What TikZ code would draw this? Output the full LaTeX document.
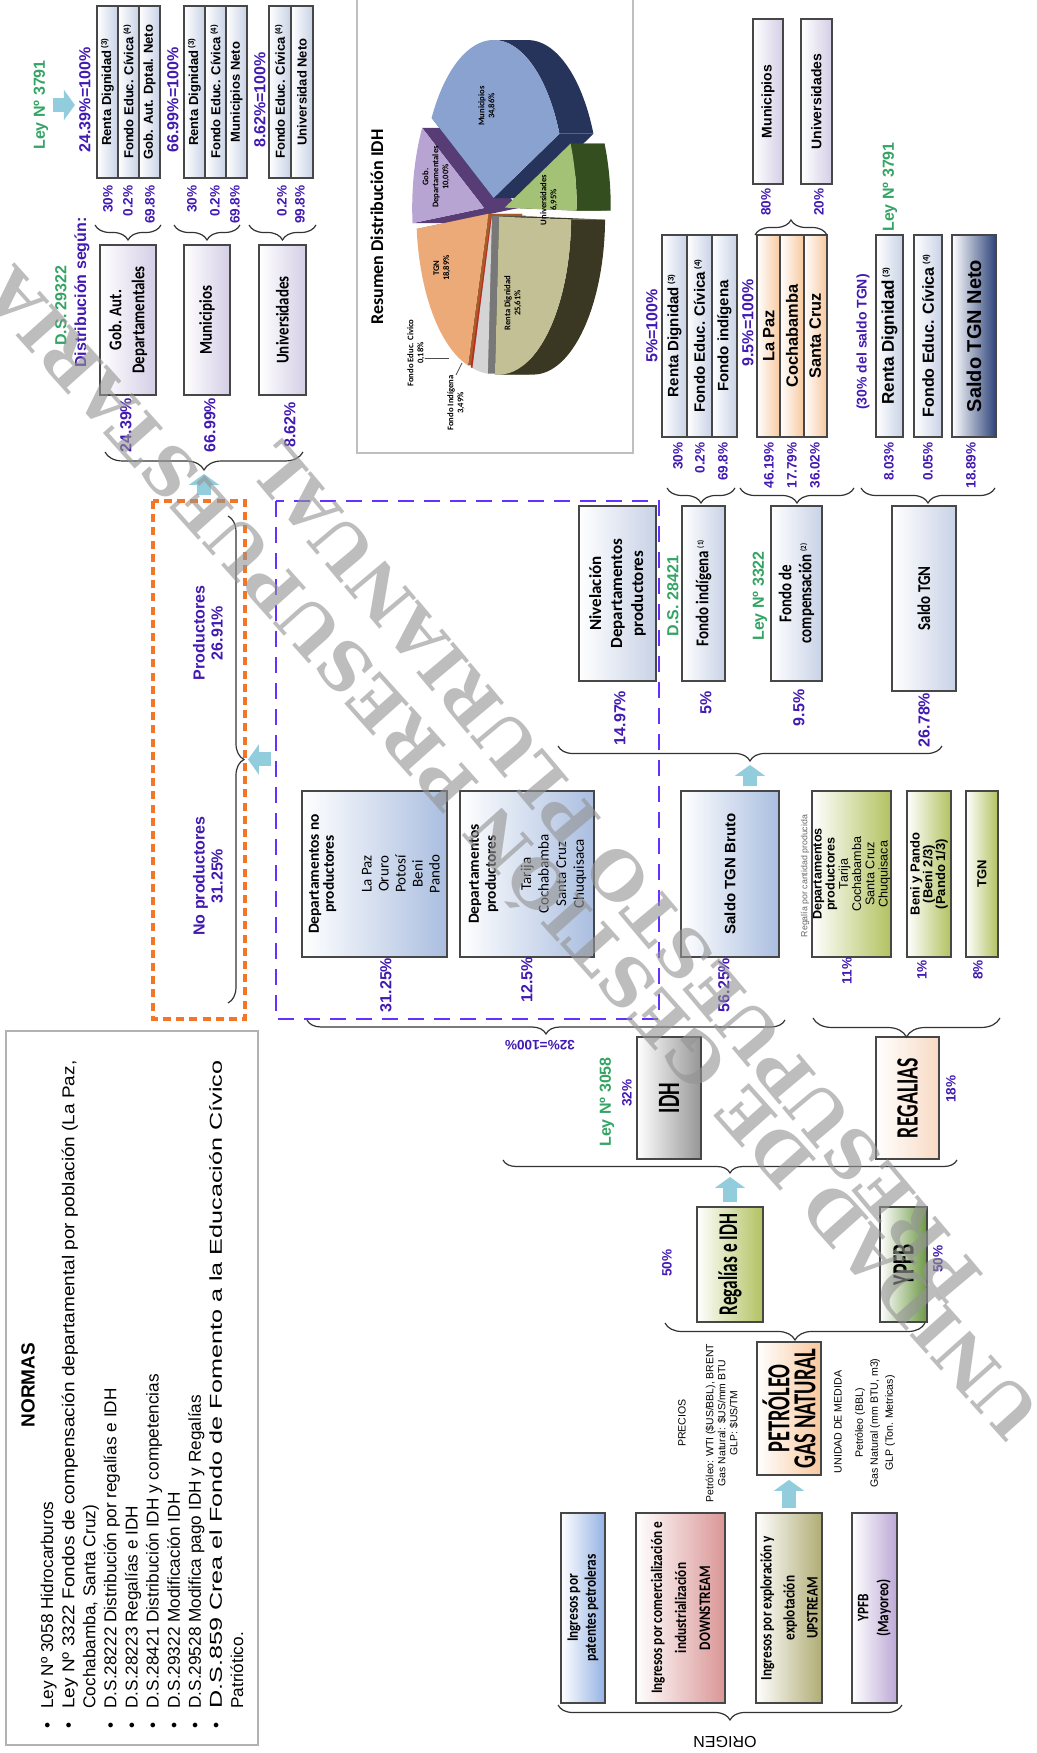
\documentclass[tikz,border=0pt]{standalone}
\usepackage{graphicx}
\usepackage{fontspec}
\setmainfont{Liberation Sans}
\newfontfamily\calfnt{Carlito}
\newfontfamily\cndfnt[FakeStretch=0.83]{Carlito}
\newfontfamily\xcndfnt[FakeStretch=0.64]{Carlito}
\newfontfamily\wmfnt{DejaVu Serif}
\usetikzlibrary{calc,arrows.meta,decorations.pathreplacing}
\definecolor{pctcol}{RGB}{66,26,178}
\definecolor{lawcol}{RGB}{52,164,100}
\definecolor{arrcol}{RGB}{146,205,222}
\definecolor{dashpur}{RGB}{100,50,255}
\definecolor{dashora}{RGB}{242,118,38}
\definecolor{rowfill}{RGB}{200,210,230}
\definecolor{lavfill}{RGB}{212,206,230}
\definecolor{peachfill}{RGB}{248,200,158}
\definecolor{bluefill}{RGB}{170,190,224}
\definecolor{navyfill}{RGB}{46,68,122}
\definecolor{ygfill}{RGB}{178,194,96}
\definecolor{grnfill}{RGB}{108,152,68}
\definecolor{grayfill}{RGB}{150,150,150}
\definecolor{lpeachfill}{RGB}{248,218,196}
\definecolor{obluefill}{RGB}{148,178,228}
\definecolor{opinkfill}{RGB}{218,150,150}
\definecolor{oolivefill}{RGB}{176,172,116}
\definecolor{opurfill}{RGB}{188,168,214}
\definecolor{piepur}{RGB}{184,164,210}
\definecolor{piepurd}{RGB}{88,60,118}
\definecolor{pieora}{RGB}{236,170,120}
\definecolor{pieorad}{RGB}{168,92,42}
\definecolor{pieblu}{RGB}{138,162,208}
\definecolor{piebld}{RGB}{38,52,92}
\definecolor{piekha}{RGB}{194,192,148}
\definecolor{piekhad}{RGB}{58,56,34}
\definecolor{piegrn}{RGB}{164,194,118}
\definecolor{piegrnd}{RGB}{52,78,32}
\definecolor{piered}{RGB}{190,40,30}
\definecolor{piegry}{RGB}{212,212,212}
\definecolor{piegryd}{RGB}{120,120,120}
\newcommand{\nota}[1]{\,\raisebox{0.6ex}{\fontsize{4}{4}\selectfont(#1)}}

\begin{document}
\begin{tikzpicture}[x=0.5pt,y=0.5pt,
  box/.style={draw=black!72,line width=0.9pt,inner sep=0pt,align=center,left color=white},
  row/.style={box,right color=rowfill,minimum width=86pt,minimum height=10.5pt,font=\bfseries\fontsize{6.5}{7}\selectfont},
  split/.style={box,right color=rowfill,minimum width=101pt,font=\bfseries\fontsize{7.5}{8}\selectfont},
  distbox/.style={box,right color=lavfill,minimum width=75pt,font=\cndfnt\bfseries\fontsize{9}{11.5}\selectfont},
  midbox/.style={box,right color=rowfill,minimum width=87.5pt,font=\cndfnt\bfseries\fontsize{9}{10}\selectfont},
  regbox/.style={box,right color=ygfill,minimum width=83pt},
  origbox/.style={box,minimum width=95pt,font=\cndfnt\bfseries\fontsize{8}{9}\selectfont},
  bigbox/.style={box,font=\xcndfnt\bfseries\fontsize{15.5}{16}\selectfont},
  pct/.style={text=pctcol,font=\bfseries\fontsize{6.8}{8}\selectfont,inner sep=0pt,align=center},
  bigpct/.style={text=pctcol,font=\bfseries\fontsize{8}{9}\selectfont,inner sep=0pt,align=center},
  law/.style={text=lawcol,font=\bfseries\fontsize{8}{9}\selectfont,inner sep=0pt},
  note/.style={font=\fontsize{5.3}{6}\selectfont,align=center,inner sep=0pt},
  pielab/.style={font=\calfnt\bfseries\fontsize{4.3}{5}\selectfont,align=center,inner sep=0pt},
  wmark/.style={font=\wmfnt\bfseries\fontsize{33}{33}\selectfont,text=black!42,text opacity=0.62,inner sep=0pt},
  brc/.style={decorate,decoration={brace,amplitude=#1},draw=black!80,line width=0.6pt},
  brc/.default=7.5pt,
  bluearrow/.style={draw=arrcol,line width=7pt,-{Triangle[length=5.5pt,width=15pt]},shorten <=2pt,shorten >=2pt}]
\begin{scope}[rotate=90,transform shape]
\useasboundingbox (0,0) rectangle (1753,1037);

\node[draw=black!30,line width=0.6pt,minimum width=357pt,minimum height=126pt,inner sep=0pt] (normas) at (365,905) {};
\node[font=\bfseries\fontsize{9.5}{10}\selectfont] (normtit) at (368,1009) {NORMAS};
\node[anchor=north west,inner sep=0pt,font=\fontsize{8.6}{10.55}\selectfont] (normlist) at (24,999) {%
  \begin{tabular}{@{}l@{\hspace{7pt}}l@{}}
  \textbullet & Ley Nº 3058 Hidrocarburos\\
  \textbullet & \resizebox{324pt}{\height}{Ley Nº 3322 Fondos de compensación departamental por población (La Paz,}\\
   & Cochabamba, Santa Cruz)\\
  \textbullet & D.S.28222 Distribución por regalías e IDH\\
  \textbullet & D.S.28223 Regalías e IDH\\
  \textbullet & D.S.28421 Distribución IDH y competencias\\
  \textbullet & D.S.29322 Modificación IDH\\
  \textbullet & D.S.29528 Modifica pago IDH y Regalías\\
  \textbullet & \resizebox{324pt}{\height}{D.S.859 Crea el Fondo de Fomento a la Educación Cívico}\\
   & Patriótico.
  \end{tabular}};

\node[origbox,right color=obluefill,minimum height=22pt] (pat) at (145,454) {Ingresos por\\patentes petroleras};
\node[origbox,right color=opinkfill,minimum height=44.5pt,font=\cndfnt\bfseries\fontsize{8}{12}\selectfont] (down) at (145,356.5) {Ingresos por comercialización e\\industrialización\\DOWNSTREAM};
\node[origbox,right color=oolivefill,minimum height=33pt,font=\cndfnt\bfseries\fontsize{8}{11.5}\selectfont] (up) at (145,248) {Ingresos por exploración y\\explotación\\UPSTREAM};
\node[origbox,right color=opurfill,minimum height=22.5pt,font=\cndfnt\bfseries\fontsize{8}{10}\selectfont] (may) at (145,162.5) {YPFB\\(Mayoreo)};
\draw[brc] (48,135) -- (48,479);
\node[rotate=90,inner sep=0pt,font=\fontsize{8}{9}\selectfont] (orig) at (11,312) {ORIGEN};

\node[box,right color=peachfill,minimum width=66.5pt,minimum height=32pt,font=\xcndfnt\bfseries\fontsize{16}{13}\selectfont] (pet) at (344.5,248) {PETRÓLEO\\GAS NATURAL};
\draw[bluearrow] (up.east) -- (pet.west);
\node[note] (prec) at (330,355) {PRECIOS};
\node[note,font=\fontsize{5.2}{6}\selectfont] (precv) at (330,315) {Petróleo: WTI (\$US/BBL), BRENT\\Gas Natural: \$US/mm BTU\\GLP: \$US/TM};
\node[note] (umed) at (331,199) {UNIDAD DE MEDIDA};
\node[note,font=\fontsize{5.3}{7.5}\selectfont] (umedv) at (330,162) {Petróleo (BBL)\\Gas Natural (mm BTU, m3)\\GLP (Ton. Metricas)};

\draw[brc=8.5pt] (430,112) -- (430,372);
\node[box,right color=ygfill,minimum width=57.5pt,minimum height=33pt,font=\xcndfnt\bfseries\fontsize{13.5}{14}\selectfont] (regidh) at (488.5,307) {Regalías e IDH};
\node[bigbox,right color=grnfill,minimum width=57.5pt,minimum height=23.5pt] (ypfb) at (488.5,133.5) {YPFB};
\node[pct] (p50a) at (490,370) {50\%};
\node[pct] (p50b) at (494,99) {50\%};

\coordinate (tipR) at (580,307);
\draw[brc=6.5pt] (593,80) -- (593,534);
\draw[bluearrow] (regidh.east) -- (tipR);

\node[bigbox,right color=grayfill,minimum width=61pt,minimum height=32pt] (idh) at (655,368) {IDH};
\node[bigbox,right color=lpeachfill,minimum width=61pt,minimum height=31.5pt] (reg) at (655,129.5) {REGALIAS};
\node[law] (ley3058) at (651,430) {Ley Nº 3058};
\node[pct] (p32) at (660,410) {32\%};
\node[pct] (p18) at (664,86) {18\%};
\draw[brc=7pt] (733,252) -- (733,730);
\node[pct,rotate=90] (p32t) at (708,497) {32\%=100\%};
\draw[brc=9.5pt] (735,37) -- (735,224);

\node[draw=dashpur,line width=1.4pt,dash pattern=on 8pt off 5pt,minimum width=259pt,minimum height=191.5pt,inner sep=0pt] (idhzone) at (993,569.5) {};
\node[draw=dashora,line width=2pt,dash pattern=on 4pt off 2.6pt,minimum width=259pt,minimum height=46pt,inner sep=0pt] (deptzone) at (993,838) {};

\node[box,right color=bluefill,minimum width=83pt,minimum height=72.5pt] (noprod) at (879,662.5) {};
\node[font=\calfnt\bfseries\fontsize{7.7}{7.5}\selectfont,align=center,inner sep=0pt] (noprodt) at (879,714.5) {Departamentos no\\productores};
\node[font=\calfnt\fontsize{7.5}{8.5}\selectfont,align=center,inner sep=0pt] (noprodc) at (879,636) {La Paz\\Oruro\\Potosí\\Beni\\Pando};
\node[box,right color=bluefill,minimum width=83pt,minimum height=67pt] (prod) at (879,510) {};
\node[font=\calfnt\bfseries\fontsize{7.7}{8.5}\selectfont,align=center,inner sep=0pt] (prodt) at (879,553.5) {Departamentos\\productores};
\node[font=\calfnt\fontsize{7.5}{8.8}\selectfont,align=center,inner sep=0pt] (prodc) at (879,483.5) {Tarija\\Cochabamba\\Santa Cruz\\Chuquisaca};
\node[bigpct] (p3125) at (768,651) {31.25\%};
\node[bigpct] (p125) at (773,510) {12.5\%};

\coordinate (tipP) at (993.5,793);
\draw[brc=8pt] (1237,809) -- (750,809);
\draw[bluearrow] (idhzone.north -| tipP) -- (tipP);
\node[bigpct] (prodlab) at (1120,829) {Productores\\26.91\%};
\node[bigpct] (noprodlab) at (877,829) {No productores\\31.25\%};

\node[box,right color=bluefill,minimum width=83pt,minimum height=49pt,font=\bfseries\fontsize{7.5}{8}\selectfont] (sbruto) at (879,307) {Saldo TGN Bruto};
\node[bigpct] (p5625) at (768,313) {56.25\%};
\coordinate (tipS) at (992,287);
\draw[brc] (1007,95) -- (1007,479);
\draw[bluearrow] (sbruto.east |- tipS) -- (tipS);

\node[inner sep=0pt,text=black!60,font=\fontsize{4.4}{5}\selectfont] (regcant) at (877,232) {Regalía por cantidad producida};
\node[regbox,minimum height=39.5pt,font=\fontsize{6.3}{6.6}\selectfont] (regprod) at (879,185.5) {\textbf{Departamentos}\\\textbf{productores}\\Tarija\\Cochabamba\\Santa Cruz\\Chuquisaca};
\node[regbox,minimum height=22pt,font=\bfseries\fontsize{6.5}{6.4}\selectfont] (benipando) at (879,108) {Beni y Pando\\(Beni 2/3)\\(Pando 1/3)};
\node[regbox,minimum height=16pt,font=\bfseries\fontsize{6.5}{7}\selectfont] (tgnr) at (879,55) {TGN};
\node[pct] (p11) at (782,190) {11\%};
\node[pct] (p1) at (783,115) {1\%};
\node[pct] (p8) at (783,59) {8\%};

\node[box,right color=rowfill,minimum width=87.5pt,minimum height=38.5pt,font=\calfnt\bfseries\fontsize{8.5}{10.5}\selectfont] (nivel) at (1159.5,419.5) {Nivelación\\Departamentos\\productores};
\node[bigpct] (p1497) at (1035,417) {14.97\%};
\node[midbox,minimum height=21.5pt] (findig) at (1159.5,333.5) {Fondo indígena\nota{1}};
\node[law] (ds28421) at (1157,364) {D.S. 28421};
\node[bigpct] (p5) at (1050,331) {5\%};
\node[midbox,minimum height=25.5pt] (fcomp) at (1159.5,240.5) {Fondo de\\compensación\nota{2}};
\node[law] (ley3322) at (1157,277) {Ley Nº 3322};
\node[bigpct] (p95) at (1045,238) {9.5\%};
\node[midbox,minimum width=92.5pt,minimum height=32pt] (stgn) at (1154.5,113) {Saldo TGN};
\node[bigpct] (p2678) at (1033,113) {26.78\%};
\draw[brc] (1265,302) -- (1265,370);
\draw[brc] (1265,183) -- (1265,297);
\draw[brc] (1265,42) -- (1265,176);

\node[split,minimum height=12.5pt] (fi1) at (1417,362.5) {Renta Dignidad\nota{3}};
\node[split,minimum height=12.5pt] (fi2) at (1417,337.5) {Fondo Educ. Cívica\nota{4}};
\node[split,minimum height=12.5pt] (fi3) at (1417,312.5) {Fondo indígena};
\node[bigpct] (fi100) at (1427,385) {5\%=100\%};
\node[pct,anchor=east] (fi1p) at (1311,359) {30\%};
\node[pct,anchor=east] (fi2p) at (1311,337) {0.2\%};
\node[pct,anchor=east] (fi3p) at (1311,314) {69.8\%};

\node[split,right color=peachfill,minimum height=11.65pt,font=\bfseries\fontsize{8.2}{9}\selectfont] (fc1) at (1417,268.3) {La Paz};
\node[split,right color=peachfill,minimum height=11.65pt,font=\bfseries\fontsize{8.2}{9}\selectfont] (fc2) at (1417,245) {Cochabamba};
\node[split,right color=peachfill,minimum height=11.65pt,font=\bfseries\fontsize{8.2}{9}\selectfont] (fc3) at (1417,221.7) {Santa Cruz};
\node[bigpct] (fc100) at (1430,289) {9.5\%=100\%};
\node[pct,anchor=east] (fc1p) at (1311,268) {46.19\%};
\node[pct,anchor=east] (fc2p) at (1311,245) {17.79\%};
\node[pct,anchor=east] (fc3p) at (1311,222) {36.02\%};
\draw[brc] (1518,282) -- (1518,210);
\node[pct,anchor=east] (p80) at (1565,271) {80\%};
\node[pct,anchor=east] (p20) at (1565,218) {20\%};
\node[box,right color=lavfill,minimum width=82.5pt,minimum height=15pt,font=\bfseries\fontsize{7}{8}\selectfont] (mun2) at (1651.5,269) {Municipios};
\node[box,right color=lavfill,minimum width=82.5pt,minimum height=15.5pt,font=\bfseries\fontsize{7}{8}\selectfont] (uni2) at (1651.5,220.5) {Universidades};

\node[pct,font=\bfseries\fontsize{7}{8}\selectfont] (tgn30) at (1411,174) {(30\% del saldo TGN)};
\node[law] (ley3791b) at (1566,147) {Ley Nº 3791};
\node[split,minimum height=13.5pt,font=\bfseries\fontsize{8.5}{9}\selectfont] (st1) at (1417,147.5) {Renta Dignidad\nota{3}};
\node[split,minimum height=14pt,font=\bfseries\fontsize{8}{9}\selectfont] (st2) at (1417,109) {Fondo Educ. Cívica\nota{4}};
\node[split,right color=navyfill,minimum height=22pt,font=\bfseries\fontsize{10}{11}\selectfont] (st3) at (1417,63) {Saldo TGN Neto};
\node[pct,anchor=east] (st1p) at (1311,148) {8.03\%};
\node[pct,anchor=east] (st2p) at (1311,109) {0.05\%};
\node[pct,anchor=east] (st3p) at (1311,66) {18.89\%};

\node[distbox,minimum height=28pt] (gob) at (1433,909) {Gob. Aut.\\Departamentales};
\node[distbox,minimum height=23pt] (mun) at (1433,830) {Municipios};
\node[distbox,minimum height=23.5pt] (uni) at (1433,754.5) {Universidades};
\node[bigpct] (pgob) at (1328,911) {24.39\%};
\node[bigpct] (pmun) at (1328,827) {66.99\%};
\node[bigpct] (puni) at (1328,747) {8.62\%};
\node[bigpct,anchor=west] (distseg) at (1385,955) {Distribución según:};
\node[law,anchor=west] (ds29322) at (1407,976) {D.S. 29322};
\coordinate (tipD) at (1283,833);
\draw[brc=9pt] (1301,734) -- (1301,932);
\draw[bluearrow] (deptzone.east |- tipD) -- (tipD);

\draw[brc] (1528,876) -- (1528,942);
\draw[brc] (1528,797) -- (1528,863);
\draw[brc] (1528,721) -- (1528,788);
\node[row] (g1a) at (1661,929.5) {Renta Dignidad\nota{3}};
\node[row] (g1b) at (1661,908.5) {Fondo Educ. Cívica\nota{4}};
\node[row] (g1c) at (1661,887.5) {Gob. Aut. Dptal. Neto};
\node[row] (g2a) at (1661,842.5) {Renta Dignidad\nota{3}};
\node[row] (g2b) at (1661,821.5) {Fondo Educ. Cívica\nota{4}};
\node[row] (g2c) at (1661,800.5) {Municipios Neto};
\node[row,minimum height=11pt] (g3a) at (1661,757) {Fondo Educ. Cívica\nota{4}};
\node[row,minimum height=11pt] (g3b) at (1661,735) {Universidad Neto};
\node[bigpct] (g1tot) at (1653,952) {24.39\%=100\%};
\node[bigpct] (g2tot) at (1653,864) {66.99\%=100\%};
\node[bigpct] (g3tot) at (1653,777) {8.62\%=100\%};
\node[pct,anchor=east] (g1ap) at (1568,929) {30\%};
\node[pct,anchor=east] (g1bp) at (1568,909) {0.2\%};
\node[pct,anchor=east] (g1cp) at (1568,887) {69.8\%};
\node[pct,anchor=east] (g2ap) at (1568,845) {30\%};
\node[pct,anchor=east] (g2bp) at (1568,822) {0.2\%};
\node[pct,anchor=east] (g2cp) at (1568,802) {69.8\%};
\node[pct,anchor=east] (g3ap) at (1568,755) {0.2\%};
\node[pct,anchor=east] (g3bp) at (1568,737) {99.8\%};
\node[law] (ley3791a) at (1648,996) {Ley Nº 3791};
\draw[bluearrow] (ley3791a.south) -- (ley3791a.south |- g1tot.north);

\draw[black!25,line width=0.6pt] (1300,404) rectangle (1760,680);
\node[font=\calfnt\bfseries\fontsize{9}{10}\selectfont] (pietit) at (1526,660) {Resumen Distribución IDH};
\foreach \sa/\sb/\fa/\fb/\xr/\tcol/\scol in {59.5/95.5/0/0/9/piepur/piepurd,95.5/163.5/0/0/6/pieora/pieorad,163.5/164.3/0/0/6/piered/piered,164.3/176.7/0/0/6/piegry/piegryd,-66/59.5/-66/0/12/pieblu/piebld,176.7/268.9/180/268.9/9/piekha/piekhad,268.9/293.9/268.9/293.9/12/piegrn/piegrnd}{
  \pgfmathsetmacro\md{(\sa+\sb)/2}
  \coordinate (pc) at ($(1543,544)+(\md:\xr)$);
  \fill[\scol] (pc) -- ($(pc)+(\sa:158 and 72)$) -- ++(0,-34) -- ($(pc)+(0,-34)$) -- cycle;
  \fill[\scol] (pc) -- ($(pc)+(\sb:158 and 72)$) -- ++(0,-34) -- ($(pc)+(0,-34)$) -- cycle;
  \ifdim\fa pt=\fb pt\else
    \fill[\scol] ($(pc)+(\fa:158 and 72)$) arc[start angle=\fa,end angle=\fb,x radius=158,y radius=72] -- ++(0,-34) arc[start angle=\fb,end angle=\fa,x radius=158,y radius=72] -- cycle;
  \fi
  \fill[\tcol] (pc) -- ($(pc)+(\sa:158 and 72)$) arc[start angle=\sa,end angle=\sb,x radius=158,y radius=72] -- cycle;
}
\node[pielab] (lmun) at (1647,550) {Municipios\\34,86\%};
\node[pielab] (luni) at (1553,488) {Universidades\\6,95\%};
\node[pielab] (lren) at (1450,524) {Renta Dignidad\\25,61\%};
\node[pielab] (ltgn) at (1485,595) {TGN\\18,89\%};
\node[pielab] (lgob) at (1576,601) {Gob.\\Departamentales\\10,00\%};
\node[pielab] (lfec) at (1400,621) {Fondo Educ. Civico\\0,18\%};
\node[pielab] (lfin) at (1350,581) {Fondo Indígena\\3,49\%};
\coordinate (pfec) at (1395,588);
\coordinate (pfin) at (1390,575);
\draw[black!70,line width=0.4pt] (lfec.south -| pfec) -- (pfec);
\draw[black!70,line width=0.4pt] (lfin.east) -- (pfin);

\node[wmark,rotate=41.8] (wm1) at (895,530) {UNIDAD DE GESTIÓN PRESUPUESTARIA};
\node[wmark,rotate=40] (wm2) at (881,422) {PRESUPUESTO PLURIANUAL};
\end{scope}
\end{tikzpicture}
\end{document}
